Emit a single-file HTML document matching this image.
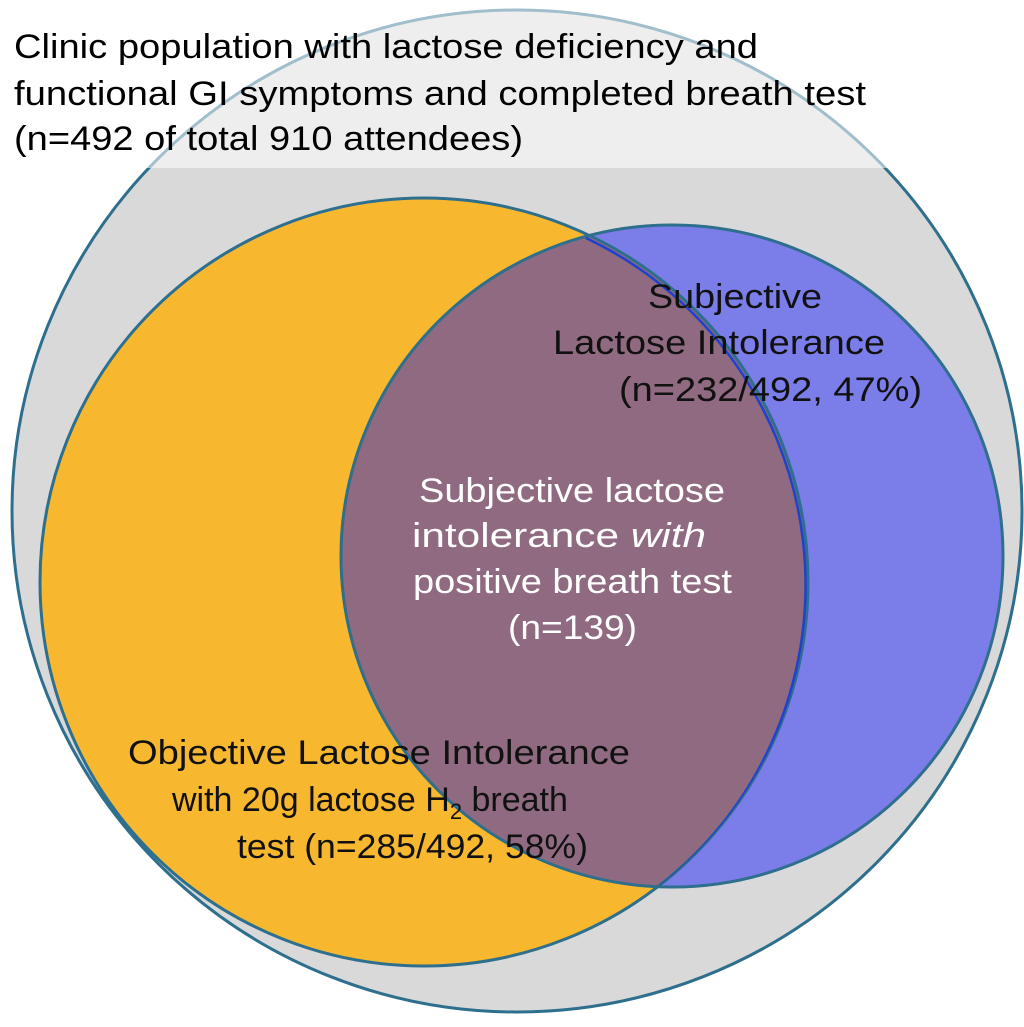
<!DOCTYPE html>
<html><head><style>body{margin:0;background:#fff}svg{display:block}text{font-family:"Liberation Sans",sans-serif}</style></head>
<body>
<svg width="1024" height="1027" viewBox="0 0 1024 1027">
<ellipse cx="517" cy="511" rx="505" ry="501" fill="#d9d9d9" stroke="#2e6f8e" stroke-width="3"/>
<defs>
<clipPath id="ob"><circle cx="424" cy="582" r="384"/></clipPath>
</defs>
<circle cx="424" cy="582" r="384" fill="#f7b830"/>
<circle cx="672" cy="556" r="331" fill="#7b7de8"/>
<circle cx="672" cy="556" r="331" fill="#8f6a80" clip-path="url(#ob)"/>
<circle cx="424" cy="582" r="384" fill="none" stroke="#2e6f8e" stroke-width="3"/>
<circle cx="672" cy="556" r="331" fill="none" stroke="#2e6f8e" stroke-width="3"/>
<path d="M 586 238 A 384 384 0 0 1 660 886" fill="none" stroke="#2040d0" stroke-width="2.5" clip-path="url(#ob)"/>
<rect x="0" y="0" width="1024" height="168" fill="#fff" fill-opacity="0.55"/>
<g font-size="34" fill="#000" lengthAdjust="spacingAndGlyphs">
<text x="14" y="58" textLength="744" lengthAdjust="spacingAndGlyphs">Clinic population with lactose deficiency and</text>
<text x="14" y="105" textLength="852" lengthAdjust="spacingAndGlyphs">functional GI symptoms and completed breath test</text>
<text x="14" y="150" textLength="509" lengthAdjust="spacingAndGlyphs">(n=492 of total 910 attendees)</text>
</g>
<g font-size="34" fill="#111">
<text x="648" y="308" textLength="174" lengthAdjust="spacingAndGlyphs">Subjective</text>
<text x="553" y="354" textLength="332" lengthAdjust="spacingAndGlyphs">Lactose Intolerance</text>
<text x="619" y="401" textLength="303" lengthAdjust="spacingAndGlyphs">(n=232/492, 47%)</text>
</g>
<g font-size="34" fill="#fff">
<text x="419" y="502" textLength="306" lengthAdjust="spacingAndGlyphs">Subjective lactose</text>
<text x="412" y="547" textLength="294" lengthAdjust="spacingAndGlyphs">intolerance <tspan font-style="italic">with</tspan></text>
<text x="413" y="593" textLength="319" lengthAdjust="spacingAndGlyphs">positive breath test</text>
<text x="508" y="639" textLength="129" lengthAdjust="spacingAndGlyphs">(n=139)</text>
</g>
<g font-size="34" fill="#111">
<text x="128" y="764" textLength="502" lengthAdjust="spacingAndGlyphs">Objective Lactose Intolerance</text>
<text x="172" y="811">with 20g lactose H<tspan font-size="22" dy="8">2</tspan><tspan dy="-8"> breath</tspan></text>
<text x="237" y="858" textLength="351" lengthAdjust="spacingAndGlyphs">test (n=285/492, 58%)</text>
</g>
</svg>
</body></html>
